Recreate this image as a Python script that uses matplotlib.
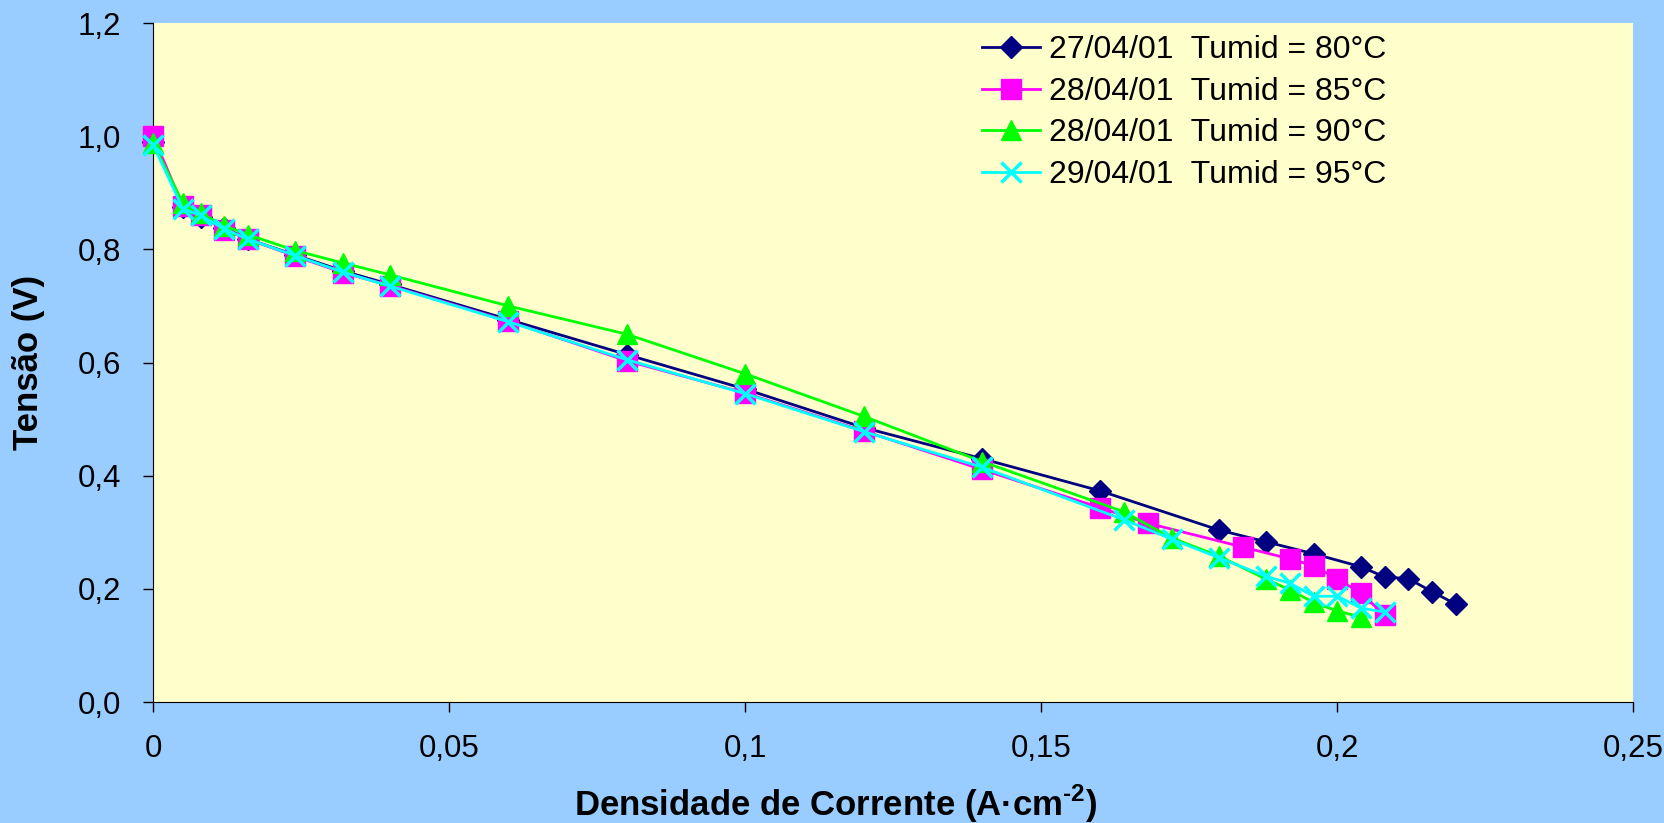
import matplotlib.pyplot as plt
import matplotlib.ticker as mticker

plt.rcParams['font.family'] = ['Liberation Sans', 'DejaVu Sans']
plt.rcParams['mathtext.fontset'] = 'custom'
plt.rcParams['mathtext.rm'] = 'Liberation Sans:bold'
plt.rcParams['mathtext.bf'] = 'Liberation Sans:bold'

# dados
x80 = [0, 0.005, 0.008, 0.012, 0.016, 0.024, 0.032, 0.04, 0.06, 0.08, 0.1, 0.12, 0.14,
       0.16, 0.18, 0.188, 0.196, 0.204, 0.208, 0.212, 0.216, 0.22]
v80 = [0.99, 0.875, 0.858, 0.838, 0.818, 0.79, 0.762, 0.738, 0.676, 0.614, 0.553, 0.485, 0.43,
       0.373, 0.304, 0.283, 0.262, 0.239, 0.221, 0.218, 0.195, 0.173]

x85 = [0, 0.005, 0.008, 0.012, 0.016, 0.024, 0.032, 0.04, 0.06, 0.08, 0.1, 0.12, 0.14,
       0.16, 0.168, 0.184, 0.192, 0.196, 0.2, 0.204, 0.208]
v85 = [1.0, 0.877, 0.86, 0.835, 0.818, 0.788, 0.759, 0.736, 0.673, 0.603, 0.546, 0.479, 0.411,
       0.343, 0.316, 0.274, 0.253, 0.241, 0.217, 0.193, 0.153]

x90 = [0, 0.005, 0.008, 0.012, 0.016, 0.024, 0.032, 0.04, 0.06, 0.08, 0.1, 0.12, 0.14,
       0.164, 0.172, 0.18, 0.188, 0.192, 0.196, 0.2, 0.204]
v90 = [0.988, 0.882, 0.864, 0.842, 0.826, 0.798, 0.776, 0.755, 0.70, 0.65, 0.58, 0.505, 0.425,
       0.336, 0.29, 0.258, 0.217, 0.198, 0.176, 0.161, 0.15]

x95 = [0, 0.005, 0.008, 0.012, 0.016, 0.024, 0.032, 0.04, 0.06, 0.08, 0.1, 0.12, 0.14,
       0.164, 0.172, 0.18, 0.188, 0.192, 0.196, 0.2, 0.204, 0.208]
v95 = [0.985, 0.872, 0.86, 0.836, 0.818, 0.789, 0.76, 0.735, 0.672, 0.605, 0.545, 0.478, 0.415,
       0.322, 0.288, 0.255, 0.222, 0.21, 0.187, 0.187, 0.166, 0.159]

labels = ['27/04/01  Tumid = 80°C', '28/04/01  Tumid = 85°C',
          '28/04/01  Tumid = 90°C', '29/04/01  Tumid = 95°C']

fig = plt.figure(figsize=(16.65, 8.23), dpi=100, facecolor='#99CCFF')
ax = fig.add_axes([0.092, 0.147, 0.889, 0.825])
ax.set_facecolor('#FFFFCC')

ax.plot(x80, v80, color='#000080', lw=2, marker='D', ms=11, label=labels[0], clip_on=False, zorder=3)
ax.plot(x85, v85, color='#FF00FF', lw=2, marker='s', ms=15, label=labels[1], clip_on=False, zorder=3)
ax.plot(x90, v90, color='#00FF00', lw=2, marker='^', ms=15, label=labels[2], clip_on=False, zorder=3)
ax.plot(x95, v95, color='#00FFFF', lw=2, marker='x', ms=14, mew=2.5, label=labels[3], clip_on=False, zorder=3)

ax.set_xlim(0, 0.25)
ax.set_ylim(0, 1.2)
ax.xaxis.set_major_locator(mticker.MultipleLocator(0.05))
ax.yaxis.set_major_locator(mticker.MultipleLocator(0.2))
ax.xaxis.set_major_formatter(mticker.FuncFormatter(lambda v, p: '0' if v == 0 else f'{v:g}'.replace('.', ',')))
ax.yaxis.set_major_formatter(mticker.FuncFormatter(lambda v, p: f'{v:.1f}'.replace('.', ',')))
ax.tick_params(direction='out', length=7, width=1, labelsize=22.5, pad=16)

for s in ['top', 'right']:
    ax.spines[s].set_visible(False)

fig.text(0.502, 1 - 804 / 823, 'Densidade de Corrente (A·cm$^{\\text{-2}}$)',
         fontsize=25, fontweight='bold', ha='center', va='center')
fig.text(28.5 / 1665, 0.5 * (1 - 23 / 823 + 1 - 702 / 823), 'Tensão (V)', rotation=90,
         fontsize=25, fontweight='bold', ha='center', va='center')

ax.legend(loc='upper left', bbox_to_anchor=(0.560, 0.982), frameon=False, fontsize=23,
          handlelength=1.8, labelspacing=0.36, handletextpad=0.3,
          borderpad=0, borderaxespad=0)

fig.savefig('out.png', dpi=100, facecolor=fig.get_facecolor())
